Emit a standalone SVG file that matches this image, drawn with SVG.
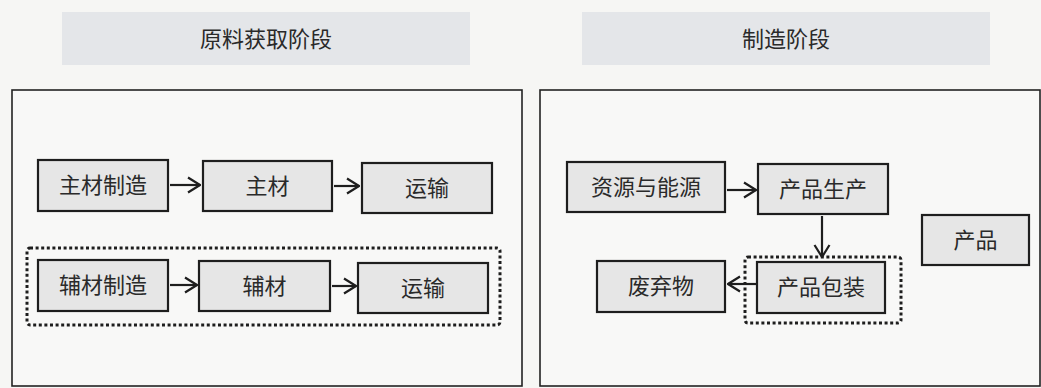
<svg xmlns="http://www.w3.org/2000/svg" width="1041" height="388" viewBox="0 0 1041 388">
<defs>
<style>
.bg{fill:#f6f6f4}
.hdr{fill:#e4e6e9}
.panel{fill:#f8f8f7;stroke:#222;stroke-width:1.6}
.node{fill:#e6e6e6;stroke:#1e1e1e;stroke-width:2.2}
.dot{fill:none;stroke:#1e1e1e;stroke-width:3;stroke-dasharray:3 2.6}
.t{font-family:"Liberation Sans","Noto Sans CJK SC",sans-serif;font-size:22px;fill:#2a2a2a;text-anchor:middle;dominant-baseline:central}
.h{font-size:22px}
.conn line{stroke:#1e1e1e;stroke-width:2.2}
</style>
<marker id="ah" viewBox="0 0 14 18" refX="13" refY="9" markerWidth="14" markerHeight="18" markerUnits="userSpaceOnUse" orient="auto">
<path d="M1,1.5 L13,9 L1,16.5" fill="none" stroke="#1e1e1e" stroke-width="2.2"/>
</marker>
</defs>
<rect class="bg" x="0" y="0" width="1041" height="388"/>
<g id="header-left"><rect class="hdr" x="62" y="12" width="408" height="53"/><text class="t h" x="266" y="39">原料获取阶段</text></g>
<g id="header-right"><rect class="hdr" x="582" y="12" width="408" height="53"/><text class="t h" x="786" y="39">制造阶段</text></g>
<g id="panel-left"><rect class="panel" x="12" y="90" width="510" height="296"/></g>
<g id="panel-right"><rect class="panel" x="540" y="90" width="500" height="296"/></g>
<g id="group-aux"><rect class="dot" x="27" y="248" width="473" height="77" rx="3"/></g>
<g id="group-pack"><rect class="dot" x="745" y="257" width="156" height="66" rx="3"/></g>
<g id="n1"><rect class="node" x="38" y="160" width="130" height="51"/><text class="t" x="103" y="185.5">主材制造</text></g>
<g id="n2"><rect class="node" x="203" y="161" width="129" height="50"/><text class="t" x="267.5" y="186">主材</text></g>
<g id="n3"><rect class="node" x="362" y="163" width="130" height="50"/><text class="t" x="427" y="188">运输</text></g>
<g id="n4"><rect class="node" x="38" y="260" width="130" height="51"/><text class="t" x="103" y="285.5">辅材制造</text></g>
<g id="n5"><rect class="node" x="199" y="261" width="131" height="50"/><text class="t" x="264.5" y="286">辅材</text></g>
<g id="n6"><rect class="node" x="358" y="263" width="130" height="50"/><text class="t" x="423" y="288">运输</text></g>
<g id="n7"><rect class="node" x="567" y="162" width="158" height="50"/><text class="t" x="646" y="187">资源与能源</text></g>
<g id="n8"><rect class="node" x="758" y="164" width="130" height="50"/><text class="t" x="823" y="189">产品生产</text></g>
<g id="n9"><rect class="node" x="922" y="215" width="107" height="50"/><text class="t" x="975.5" y="240">产品</text></g>
<g id="n10"><rect class="node" x="757" y="262" width="128" height="51"/><text class="t" x="821" y="287.5">产品包装</text></g>
<g id="n11"><rect class="node" x="597" y="261" width="128" height="51"/><text class="t" x="661" y="286.5">废弃物</text></g>
<g class="conn" id="connectors">
<line x1="170" y1="185" x2="200" y2="185" marker-end="url(#ah)"/>
<line x1="334" y1="186" x2="359" y2="186" marker-end="url(#ah)"/>
<line x1="170" y1="285" x2="197" y2="285" marker-end="url(#ah)"/>
<line x1="332" y1="286" x2="356" y2="286" marker-end="url(#ah)"/>
<line x1="727" y1="190" x2="756" y2="190" marker-end="url(#ah)"/>
<line x1="822" y1="216" x2="822" y2="257" marker-end="url(#ah)"/>
<line x1="756" y1="284" x2="728" y2="284" marker-end="url(#ah)"/>
</g>
</svg>
